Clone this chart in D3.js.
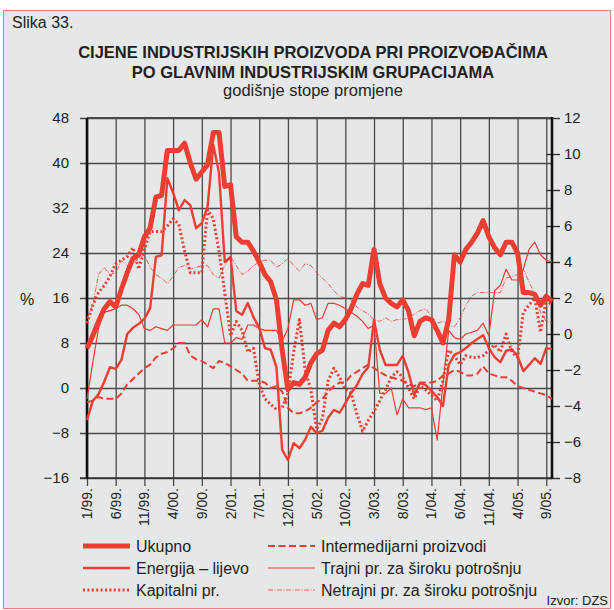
<!DOCTYPE html>
<html lang="hr">
<head>
  <meta charset="UTF-8">
  <title>Slika 33.</title>
  <script src="https://cdn.jsdelivr.net/npm/d3@7"></script>
  <style>
    body { margin: 0; padding: 0; background: #fff; }
    svg text { font-family: "Liberation Sans", Arial, Helvetica, sans-serif; fill: #231f20; }
  </style>
</head>
<body>
<div id="chart"></div>
<script>
// x tick labels, one every 5 months from 1/99
var tickLabels = ["1/99.", "6/99.", "11/99.", "4/00.", "9/00.", "2/01.", "7/01.", "12/01.",
                  "5/02.", "10/02.", "3/03.", "8/03.", "1/04.", "6/04.", "11/04.", "4/05.", "9/05."];
var leftTicks = [-16, -8, 0, 8, 16, 24, 32, 40, 48];
var rightTicks = [-8, -6, -4, -2, 0, 2, 4, 6, 8, 10, 12];

// monthly values 1/99 .. 10/05 (energija on left axis, the rest on right axis)
var ukupno = [-0.8,-0.1,0.7,1.4,1.8,1.5,2.5,3.4,4.2,4.4,
  5.4,5.9,7.6,7.7,10.2,10.2,10.2,10.6,9.5,8.6,
  9.0,9.4,11.2,11.2,8.2,8.3,5.4,5.1,5.1,4.6,
  4.0,3.3,2.9,1.9,-0.9,-3.1,-2.7,-2.8,-2.4,-1.6,
  -1.1,-0.9,0.2,0.6,0.4,0.8,1.4,2.2,2.8,2.7,
  4.7,2.8,2.0,1.7,1.5,1.9,1.3,-0.1,0.7,0.9,
  0.8,0.2,-0.5,0.8,4.4,4.0,4.7,5.1,5.6,6.3,
  5.4,4.8,4.4,5.1,5.1,4.5,2.3,2.3,2.2,1.6,
  2.1,1.8];
var energija = [-5.7,-2.3,-1.1,1.1,3.7,3.4,5.0,9.6,10.7,11.4,
  12.3,14.2,23.3,23.6,37.3,34.7,31.6,33.4,32.5,28.4,
  29.3,32.2,43.2,38.2,22.4,23.3,13.7,13.0,15.1,12.6,
  10.7,7.1,6.8,3.7,-11.0,-12.8,-9.8,-10.7,-9.2,-6.9,
  -8.0,-7.6,-5.3,-3.9,-4.4,-2.7,-0.9,0.5,2.5,3.7,
  12.1,6.8,4.1,4.1,4.1,5.7,2.8,-1.2,0.9,0.5,
  -0.5,-1.6,-3.2,4.1,5.9,6.4,7.1,8.0,8.7,9.4,
  7.1,5.5,4.6,6.6,6.9,5.7,3.0,4.1,5.3,4.3,
  7.1,6.9];
var kapitalni = [0.6,1.6,2.3,2.7,3.2,3.9,4.1,4.3,4.8,3.6,
  4.7,5.7,5.7,5.7,6.0,6.4,6.1,4.6,3.4,3.4,
  3.4,6.9,6.4,4.6,2.3,-0.1,0.7,0.2,-1.0,-0.8,
  -2.8,-3.6,-3.9,-4.2,-4.1,-3.3,-1.0,0.8,-2.0,-3.1,
  -5.3,-4.7,-2.6,-1.9,-2.4,-3.1,-3.3,-4.4,-5.4,-4.8,
  -4.3,-3.7,-3.1,-2.4,-2.1,-2.4,-3.0,-3.6,-2.9,-3.1,
  -3.4,-3.7,-2.6,-0.9,-1.2,-1.7,-1.2,-1.3,-1.3,-1.2,
  -0.9,-0.6,-1.0,0.0,-1.0,-1.3,1.2,1.6,2.0,0.1,
  1.9,1.6];
var intermedijarni = [-3.8,-3.7,-3.5,-3.6,-3.6,-3.6,-3.3,-2.8,-2.5,-2.2,
  -1.9,-1.7,-1.3,-1.1,-1.0,-0.8,-0.5,-0.5,-1.2,-1.4,
  -1.5,-1.7,-1.9,-1.5,-1.6,-1.8,-2.0,-2.2,-2.6,-2.6,
  -2.6,-2.7,-3.0,-2.9,-3.2,-4.1,-4.4,-4.4,-4.3,-4.1,
  -3.8,-3.6,-3.2,-2.9,-2.7,-2.7,-2.3,-2.1,-1.9,-1.7,
  -1.9,-2.1,-2.3,-2.4,-2.5,-2.6,-2.8,-2.9,-2.7,-2.7,
  -2.7,-2.6,-2.3,-2.2,-2.0,-2.1,-2.3,-2.3,-2.2,-1.8,
  -2.2,-2.3,-2.4,-2.4,-2.6,-2.9,-3.0,-3.1,-3.2,-3.3,
  -3.4,-3.6];
var trajni = [-3.6,-1.6,0.3,1.2,1.3,1.4,1.6,1.6,1.4,1.1,
  0.3,0.2,0.4,0.3,0.2,0.5,0.5,0.5,0.5,0.5,
  0.8,0.4,1.4,1.4,-0.5,-0.5,-0.2,-0.3,0.5,0.5,
  0.3,0.2,0.2,0.2,-0.4,0.3,1.9,1.9,1.6,1.7,
  0.8,0.9,1.7,1.7,1.6,1.4,1.2,1.0,0.7,0.3,
  0.5,-3.3,-3.3,-3.0,-4.5,-3.6,-4.1,-4.1,-4.1,-4.2,
  -4.1,-5.9,-2.8,0.2,-0.2,-0.3,0.0,0.1,0.2,0.6,
  -0.1,2.4,2.7,3.6,3.0,3.0,3.6,4.7,5.1,4.4,
  4.1,4.0];
var netrajni = [0.9,1.6,3.3,3.7,3.3,3.4,4.1,3.8,3.9,4.2,
  4.4,3.7,3.3,3.1,2.8,3.2,3.7,3.8,3.6,3.7,
  3.8,3.8,3.3,3.1,3.8,4.3,3.8,3.3,3.5,3.8,
  4.0,4.1,4.1,3.7,3.9,4.2,3.8,3.5,3.9,3.8,
  3.4,3.1,2.8,2.4,2.1,2.0,1.9,1.5,1.3,1.1,
  0.8,0.7,0.9,0.7,0.8,0.8,0.9,1.1,1.3,1.4,
  1.0,0.6,0.7,0.5,0.4,0.9,1.6,2.1,2.3,2.3,
  2.3,2.3,2.3,3.1,3.2,3.3,3.6,2.9,2.2,1.2,
  0.7,0.6];

var red = "#ee3e32";
var W = 614, H = 610;
var x0 = 87, x1 = 552, y0 = 118, y1 = 478;

var svg = d3.select("#chart").append("svg")
            .attr("width", W)
            .attr("height", H);

// frame
svg.append("rect")
   .attr("x", 3.5).attr("y", 10.5)
   .attr("width", 607).attr("height", 598)
   .attr("fill", "#e6e7e9")
   .attr("stroke", "#f07b73");

var x = d3.scaleLinear().domain([0, ukupno.length - 1]).range([x0, x1]);
var yL = d3.scaleLinear().domain([-16, 48]).range([y1, y0]);
var yR = d3.scaleLinear().domain([-8, 12]).range([y1, y0]);

// horizontal grid + left labels
var gy = svg.append("g")
            .attr("transform", "translate(" + x1 + ",0)")
            .call(d3.axisLeft(yL).tickValues(leftTicks).tickSize(x1 - 80).tickPadding(11));
gy.select(".domain").remove();
gy.selectAll(".tick line").attr("stroke", "#4a4a4a").attr("stroke-width", 1.4);
gy.selectAll(".tick text").attr("font-size", 15).style("font-family", null);

// vertical grid
var xt = d3.range(0, ukupno.length, 5);
var gx = svg.append("g")
            .attr("transform", "translate(0," + (y1 + 8) + ")")
            .call(d3.axisTop(x).tickValues(xt).tickSize(y1 + 8 - y0).tickFormat(""));
gx.select(".domain").remove();
gx.selectAll(".tick line").attr("stroke", "#4a4a4a").attr("stroke-width", 1.3);

svg.append("g").selectAll("text")
   .data(xt)
   .enter()
   .append("text")
   .attr("transform", function(d) { return "translate(" + x(d) + "," + (y1 + 10) + ") rotate(-90)"; })
   .attr("dy", "0.36em")
   .attr("text-anchor", "end")
   .attr("font-size", 14)
   .text(function(d, i) { return tickLabels[i]; });

// right axis
var gr = svg.append("g")
            .attr("transform", "translate(" + x1 + ",0)")
            .call(d3.axisRight(yR).tickValues(rightTicks).tickSize(8).tickPadding(4));
gr.select(".domain").remove();
gr.selectAll(".tick line").attr("x1", -6).attr("stroke", "#333").attr("stroke-width", 1.4);
gr.selectAll(".tick text").attr("font-size", 15).style("font-family", null);

// border lines
svg.append("line").attr("x1", x0).attr("x2", x1).attr("y1", y0).attr("y2", y0)
   .attr("stroke", "#4a4a4a").attr("stroke-width", 2);
svg.append("line").attr("x1", 80).attr("x2", x1).attr("y1", y1).attr("y2", y1)
   .attr("stroke", "#333").attr("stroke-width", 1.6);
svg.append("line").attr("x1", x0).attr("x2", x0).attr("y1", y0).attr("y2", y1 + 1)
   .attr("stroke", "#111").attr("stroke-width", 2.6);
svg.append("line").attr("x1", x1).attr("x2", x1).attr("y1", y0 - 1).attr("y2", y1 + 1)
   .attr("stroke", "#111").attr("stroke-width", 2.6);

// series
var series = [
  {name: "Netrajni pr. za široku potrošnju", data: netrajni, y: yR, w: 1, dash: "5,1.5,1,1.5", op: 0.8},
  {name: "Trajni pr. za široku potrošnju", data: trajni, y: yR, w: 1.2, dash: null, op: 1},
  {name: "Intermedijarni proizvodi", data: intermedijarni, y: yR, w: 2, dash: "7,3.5", op: 1},
  {name: "Kapitalni pr.", data: kapitalni, y: yR, w: 3, dash: "2,2.4", op: 1},
  {name: "Energija – lijevo", data: energija, y: yL, w: 2.4, dash: null, op: 1},
  {name: "Ukupno", data: ukupno, y: yR, w: 5, dash: null, op: 1}
];

series.forEach(function(s) {
  var line = d3.line()
               .x(function(d, i) { return x(i); })
               .y(function(d) { return s.y(d); });
  svg.append("path")
     .datum(s.data)
     .attr("fill", "none")
     .attr("stroke", red)
     .attr("stroke-opacity", s.op)
     .attr("stroke-width", s.w)
     .attr("stroke-dasharray", s.dash)
     .attr("stroke-linejoin", "round")
     .attr("d", line);
});

// titles
svg.append("text").attr("x", 12).attr("y", 28).attr("font-size", 16).text("Slika 33.");
svg.append("text").attr("x", 313).attr("y", 58).attr("text-anchor", "middle")
   .attr("font-size", 16.5).attr("font-weight", "bold")
   .text("CIJENE INDUSTRIJSKIH PROIZVODA PRI PROIZVOĐAČIMA");
svg.append("text").attr("x", 313).attr("y", 78).attr("text-anchor", "middle")
   .attr("font-size", 16.5).attr("font-weight", "bold")
   .text("PO GLAVNIM INDUSTRIJSKIM GRUPACIJAMA");
svg.append("text").attr("x", 313).attr("y", 96).attr("text-anchor", "middle")
   .attr("font-size", 16.5).text("godišnje stope promjene");

svg.append("text").attr("x", 27).attr("y", 305).attr("text-anchor", "middle")
   .attr("font-size", 16).text("%");
svg.append("text").attr("x", 597).attr("y", 305).attr("text-anchor", "middle")
   .attr("font-size", 16).text("%");

// legend
var legendOrder = ["Ukupno", "Energija – lijevo", "Kapitalni pr.",
                   "Intermedijarni proizvodi", "Trajni pr. za široku potrošnju",
                   "Netrajni pr. za široku potrošnju"];
legendOrder.forEach(function(name, k) {
  var s = series.filter(function(t) { return t.name === name; })[0];
  var col = Math.floor(k / 3), row = k % 3;
  var lx = col === 0 ? 83 : 268;
  var ly = 546 + row * 22;
  svg.append("line")
     .attr("x1", lx).attr("x2", lx + 47).attr("y1", ly).attr("y2", ly)
     .attr("stroke", red)
     .attr("stroke-opacity", s.op)
     .attr("stroke-width", s.w)
     .attr("stroke-dasharray", s.dash);
  svg.append("text")
     .attr("x", lx + 53).attr("y", ly)
     .attr("dy", "0.35em")
     .attr("font-size", 16)
     .text(name);
});

svg.append("text").attr("x", 608).attr("y", 605).attr("text-anchor", "end")
   .attr("font-size", 13).text("Izvor: DZS");
</script>
</body>
</html>
